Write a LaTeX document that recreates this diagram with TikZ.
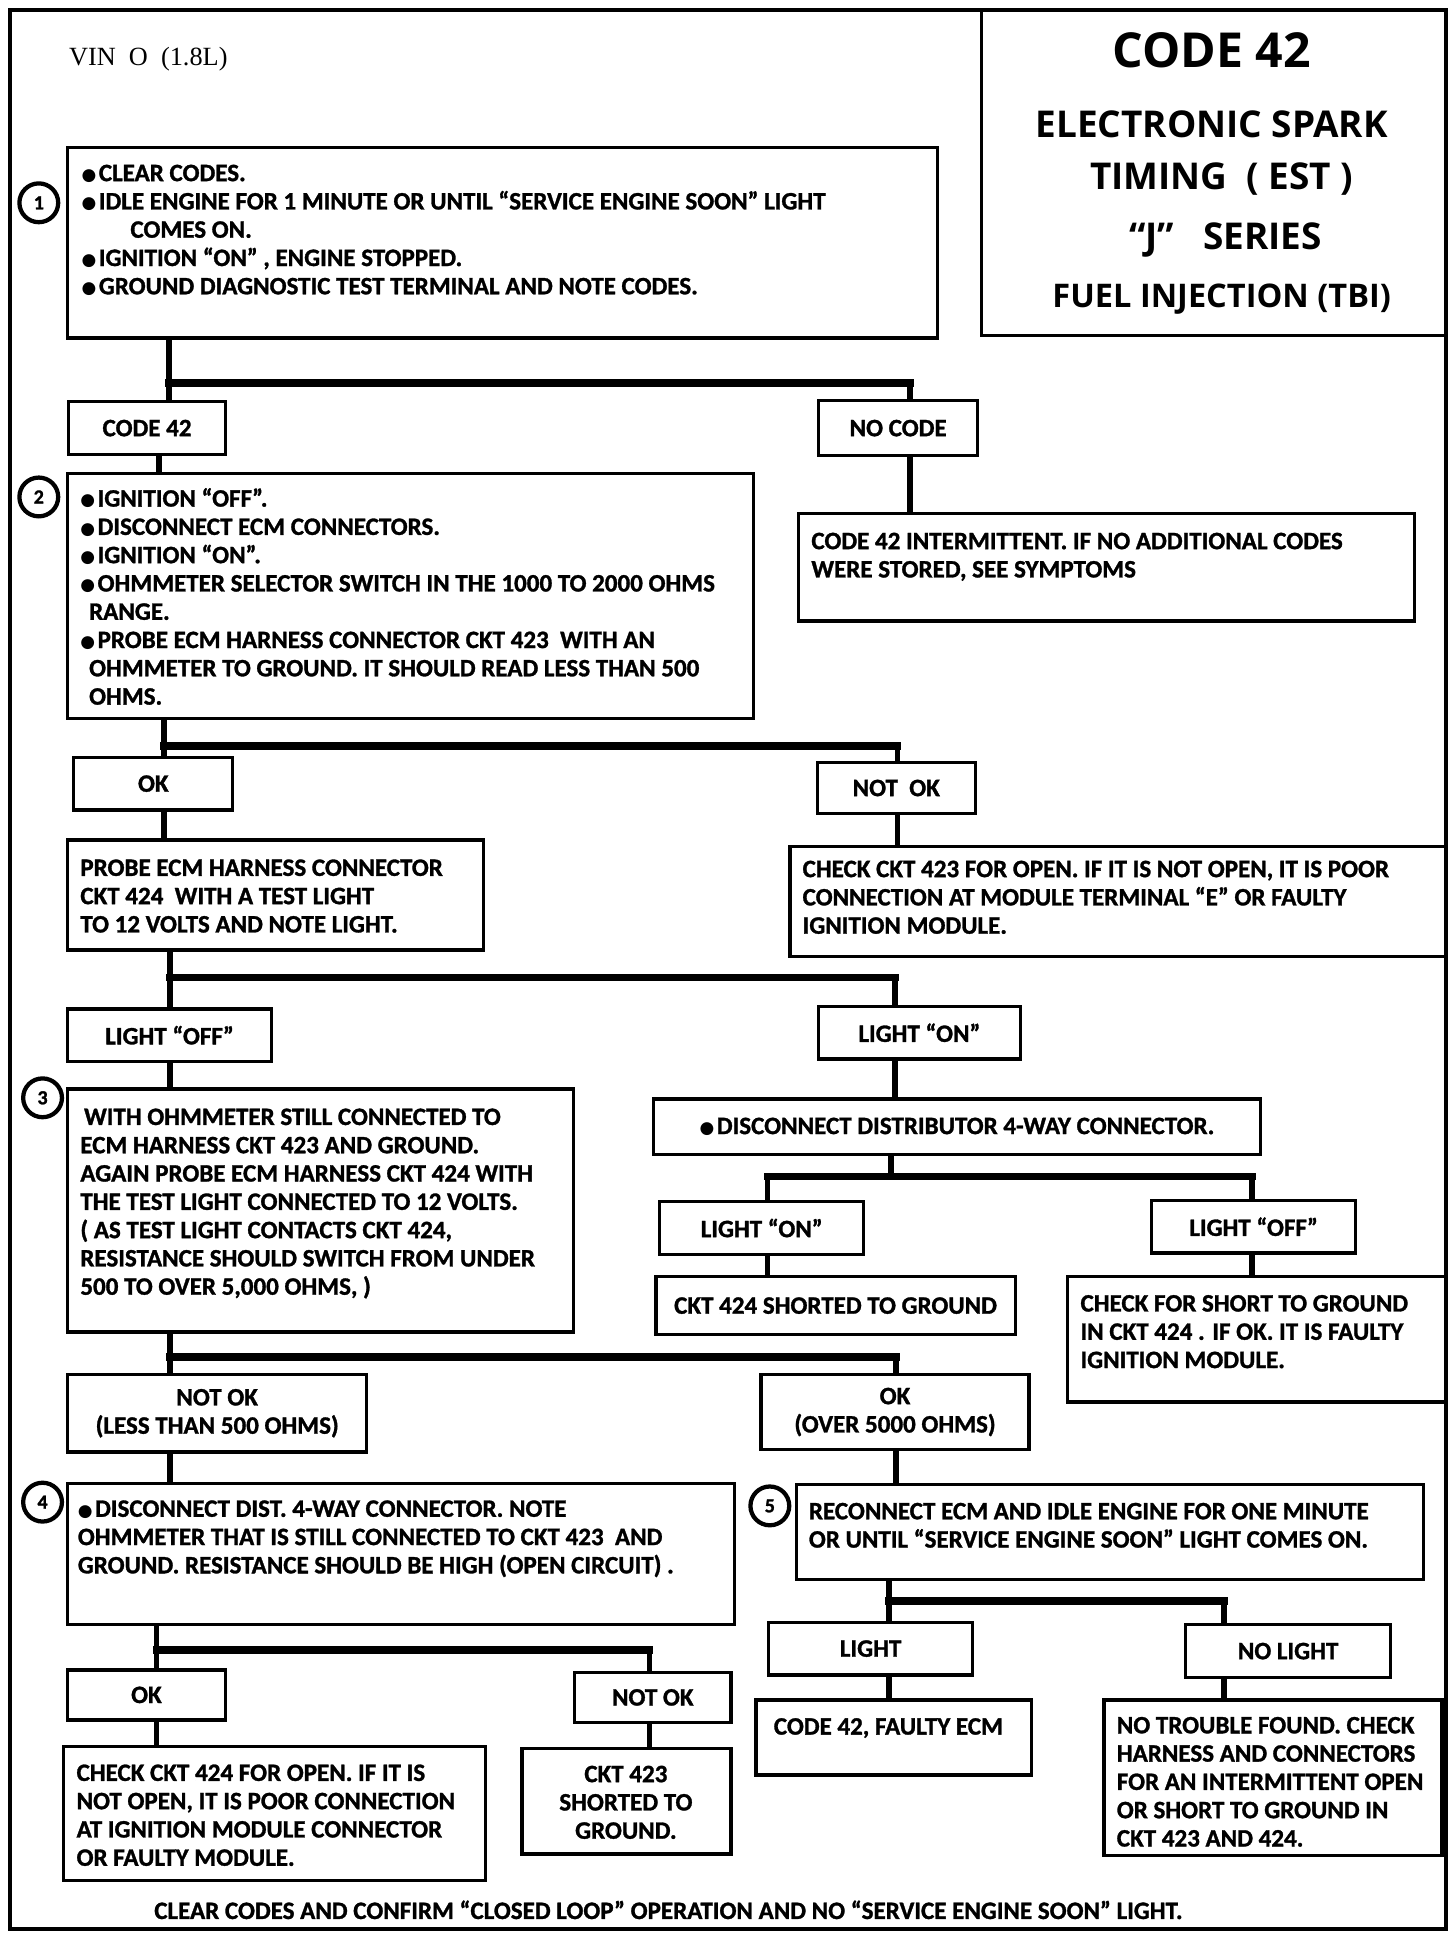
\documentclass[tikz,border=0pt]{standalone}
\usepackage{fontspec}
\setmainfont{Carlito}[BoldFeatures={FakeBold=1.2}]
\newfontfamily\titlefont{Open Sans}
\newfontfamily\vinfont{Liberation Serif}
\newfontfamily\dejavu{DejaVu Sans}
\usetikzlibrary{calc,fit}
\newcommand\bodyfont{\fontsize{20}{22.6}\selectfont\bfseries}
\newcommand\firststrut{\rule{0pt}{15pt}}
\newcommand\bul{{\dejavu\fontsize{13.5}{13.5}\selectfont\raisebox{0.5pt}{●}}\hspace{2pt}}
\newcommand\mkbox[5]{\node[box, fit={(#2,#3) (#4,#5)}] (#1) {};}
\tikzset{
  box/.style={draw, line width=2.6pt, inner sep=0pt},
  txt/.style={anchor=north west, inner sep=0pt, align=left, font=\bodyfont},
  ctxt/.style={anchor=center, inner sep=0pt, align=center, font=\bodyfont},
  vline/.style={line width=4.5pt},
  bar/.style={line width=6pt, line cap=rect},
  num/.style={circle, draw, line width=3.4pt, minimum size=31pt, inner sep=0pt, font=\fontsize{16}{16}\selectfont\bfseries},
  frame/.style={line width=3.5pt},
  ttl/.style={anchor=base, inner sep=0pt, font=\titlefont\bfseries}
}
\begin{document}
\begin{tikzpicture}[x=1pt,y=-1pt]
\useasboundingbox (0,0) rectangle (1163,1553);
\fill[white] (0,0) rectangle (1163,1553);
% frame and title box
\draw[frame] (8,8) rectangle (1155,1541);
\draw[line width=3pt] (784,8) -- (784,268) -- (1155,268);
\node[ttl, font=\titlefont\bfseries\fontsize{38.5}{38.5}\selectfont] (t1) at (968,54) {CODE 42};
\node[ttl, font=\titlefont\bfseries\fontsize{29.5}{29.5}\selectfont] (t2) at (968,109.5) {ELECTRONIC SPARK};
\node[ttl, font=\titlefont\bfseries\fontsize{29.5}{29.5}\selectfont] (t3) at (976,151) {TIMING\ \ ( EST )};
\node[ttl, font=\titlefont\bfseries\fontsize{29.5}{29.5}\selectfont] (t4) at (979,199.5) {“J”\ \ \ SERIES};
\node[ttl, font=\titlefont\bfseries\fontsize{26}{26}\selectfont] (t5) at (976,246) {FUEL INJECTION\ (TBI)};
\node[anchor=base west, inner sep=0pt, font=\vinfont\fontsize{21}{21}\selectfont] (vin) at (55,52) {VIN\ \ O\ \ (1.8L)};

% boxes
\mkbox{b1}{54}{118}{749}{270}
\mkbox{c42}{55}{321}{180}{363}
\mkbox{nocode}{654}{320}{781}{364}
\mkbox{b2}{54}{378}{602}{574}
\mkbox{inter}{638}{410}{1130}{496}
\mkbox{ok1}{59}{605}{186}{647}
\mkbox{notok1}{653}{609}{779}{650}
\mkbox{probe}{54}{671}{386}{759}
\mkbox{chk423}{631}{676}{1155}{764}
\mkbox{loff1}{54}{806}{217}{848}
\mkbox{lon1}{654}{804}{815}{846}
\mkbox{b3}{54}{870}{458}{1064}
\mkbox{disc}{522}{878}{1007}{922}
\mkbox{lon2}{527}{960}{690}{1002}
\mkbox{loff2}{920}{959}{1083}{1001}
\mkbox{sh424}{524}{1020}{811}{1066}
\mkbox{chksh}{853}{1020}{1155}{1120}
\mkbox{notok2}{54}{1098}{293}{1160}
\mkbox{ok2}{608}{1098}{822}{1158}
\mkbox{b4}{54}{1185}{587}{1298}
\mkbox{b5}{636}{1186}{1137}{1262}
\mkbox{ok3}{54}{1334}{180}{1374}
\mkbox{notok3}{459}{1336}{584}{1376}
\mkbox{chk424}{51}{1395}{388}{1502}
\mkbox{sh423}{417}{1397}{584}{1481}
\mkbox{light}{614}{1296}{777}{1338}
\mkbox{nolight}{947}{1298}{1111}{1340}
\mkbox{faulty}{604}{1358}{824}{1418}
\mkbox{ntf}{882}{1358}{1152}{1482}

% step numbers
\node[num, fill=white] (n1) at (31,162) {1};
\node[num, fill=white] (n2) at (31,397) {2};
\node[num, fill=white] (n3) at (34,877) {3};
\node[num, fill=white] (n4) at (34,1200) {4};
\node[num, fill=white] (n5) at (615,1203) {5};

% texts
\node[txt] (b1t) at (65,129.5) {\firststrut\bul CLEAR CODES.\\
\bul IDLE ENGINE FOR 1 MINUTE OR UNTIL “SERVICE ENGINE SOON” LIGHT\\
\hspace*{39pt}COMES ON.\\
\bul IGNITION “ON” , ENGINE STOPPED.\\
\bul GROUND DIAGNOSTIC TEST TERMINAL AND NOTE CODES.};
\node[ctxt] (c42t) at (c42.center) {CODE 42};
\node[ctxt] (nocodet) at (nocode.center) {NO CODE};
\node[txt] (b2t) at (64,389.5) {\firststrut\bul IGNITION “OFF”.\\
\bul DISCONNECT ECM CONNECTORS.\\
\bul IGNITION “ON”.\\
\bul OHMMETER SELECTOR SWITCH IN THE 1000 TO 2000 OHMS\\
\hspace*{7pt}RANGE.\\
\bul PROBE ECM HARNESS CONNECTOR CKT 423\ \ WITH AN\\
\hspace*{7pt}OHMMETER TO GROUND. IT SHOULD READ LESS THAN 500\\
\hspace*{7pt}OHMS.};
\node[txt] (intert) at (648,423.5) {\firststrut CODE 42 INTERMITTENT. IF NO ADDITIONAL CODES\\
WERE STORED, SEE SYMPTOMS};
\node[ctxt] (ok1t) at (ok1.center) {OK};
\node[ctxt] (notok1t) at (notok1.center) {NOT\ \ OK};
\node[txt] (probet) at (64,684.5) {\firststrut PROBE ECM HARNESS CONNECTOR\\
CKT 424\ \ WITH A TEST LIGHT\\
TO 12 VOLTS AND NOTE LIGHT.};
\node[txt] (chk423t) at (641,685.5) {\firststrut CHECK CKT 423 FOR OPEN. IF IT IS NOT OPEN, IT IS POOR\\
CONNECTION AT MODULE TERMINAL “E” OR FAULTY\\
IGNITION MODULE.};
\node[ctxt] (loff1t) at (loff1.center) {LIGHT “OFF”};
\node[ctxt] (lon1t) at (lon1.center) {LIGHT “ON”};
\node[txt] (b3t) at (64,883.5) {\firststrut\hspace*{3pt}WITH OHMMETER STILL CONNECTED TO\\
ECM HARNESS CKT 423 AND GROUND.\\
AGAIN PROBE ECM HARNESS CKT 424 WITH\\
THE TEST LIGHT CONNECTED TO 12 VOLTS.\\
( AS TEST LIGHT CONTACTS CKT 424,\\
RESISTANCE SHOULD SWITCH FROM UNDER\\
500 TO OVER 5,000 OHMS, )};
\node[ctxt] (disct) at (disc.center) {\bul DISCONNECT DISTRIBUTOR 4-WAY CONNECTOR.};
\node[ctxt] (lon2t) at (lon2.center) {LIGHT “ON”};
\node[ctxt] (loff2t) at (loff2.center) {LIGHT “OFF”};
\node[ctxt] (sh424t) at (sh424.center) {CKT 424 SHORTED TO GROUND};
\node[txt] (chksht) at (863,1032.5) {\firststrut CHECK FOR SHORT TO GROUND\\
IN CKT 424 . IF OK. IT IS FAULTY\\
IGNITION MODULE.};
\node[ctxt] (notok2t) at (notok2.center) {NOT OK\\(LESS THAN 500 OHMS)};
\node[ctxt] (ok2t) at (ok2.center) {OK\\(OVER 5000 OHMS)};
\node[txt] (b4t) at (62,1196.5) {\firststrut\bul DISCONNECT DIST. 4-WAY CONNECTOR. NOTE\\
OHMMETER THAT IS STILL CONNECTED TO CKT 423\ \ AND\\
GROUND. RESISTANCE SHOULD BE HIGH (OPEN CIRCUIT) .};
\node[txt] (b5t) at (646,1198.5) {\firststrut RECONNECT ECM AND IDLE ENGINE FOR ONE MINUTE\\
OR UNTIL “SERVICE ENGINE SOON” LIGHT COMES ON.};
\node[ctxt] (ok3t) at (ok3.center) {OK};
\node[ctxt] (notok3t) at (notok3.center) {NOT OK};
\node[txt] (chk424t) at (61,1407.5) {\firststrut CHECK CKT 424 FOR OPEN. IF IT IS\\
NOT OPEN, IT IS POOR CONNECTION\\
AT IGNITION MODULE CONNECTOR\\
OR FAULTY MODULE.};
\node[ctxt, anchor=north] (sh423t) at (500,1408.5) {\firststrut CKT 423\\SHORTED TO\\GROUND.};
\node[ctxt] (lightt) at (light.center) {LIGHT};
\node[ctxt] (nolightt) at (nolight.center) {NO LIGHT};
\node[txt] (faultyt) at (618,1370.5) {\firststrut CODE 42, FAULTY ECM};
\node[txt] (ntft) at (892,1369.5) {\firststrut NO TROUBLE FOUND. CHECK\\
HARNESS AND CONNECTORS\\
FOR AN INTERMITTENT OPEN\\
OR SHORT TO GROUND IN\\
CKT 423 AND 424.};
\node[anchor=base, inner sep=0pt, font=\bodyfont] (foot) at (534,1533) {CLEAR CODES AND CONFIRM “CLOSED LOOP” OPERATION AND NO “SERVICE ENGINE SOON” LIGHT.};

% connectors
% split A
\coordinate (a1) at (135,306); \coordinate (a2) at (727,306);
\draw[vline] (b1.south -| a1) -- (c42.north -| a1);
\draw[bar] (a1) -- (a2);
\draw[vline] (a2) -- (nocode.north -| a2);
\coordinate (a3) at (127,370);
\draw[vline] (c42.south -| a3) -- (b2.north -| a3);
\draw[vline] (nocode.south -| a2) -- (inter.north -| a2);
% split B
\coordinate (bb1) at (131,596); \coordinate (bb2) at (717,596);
\draw[vline] (b2.south -| bb1) -- (ok1.north -| bb1);
\draw[bar] (bb1) -- (bb2);
\draw[vline] (bb2) -- (notok1.north -| bb2);
\draw[vline] (ok1.south -| bb1) -- (probe.north -| bb1);
\draw[vline] (notok1.south -| bb2) -- (chk423.north -| bb2);
% split C
\coordinate (cc1) at (136,781); \coordinate (cc2) at (715,781);
\draw[vline] (probe.south -| cc1) -- (loff1.north -| cc1);
\draw[bar] (cc1) -- (cc2);
\draw[vline] (cc2) -- (lon1.north -| cc2);
\draw[vline] (loff1.south -| cc1) -- (b3.north -| cc1);
\draw[vline] (lon1.south -| cc2) -- (disc.north -| cc2);
% split D
\coordinate (dd0) at (712,940); \coordinate (dd1) at (613,940); \coordinate (dd2) at (1000,940);
\draw[vline] (disc.south -| dd0) -- (dd0);
\draw[bar] (dd1) -- (dd2);
\draw[vline] (dd1) -- (lon2.north -| dd1);
\draw[vline] (dd2) -- (loff2.north -| dd2);
\draw[vline] (lon2.south -| dd1) -- (sh424.north -| dd1);
\draw[vline] (loff2.south -| dd2) -- (chksh.north -| dd2);
% split E
\coordinate (ee1) at (136,1084); \coordinate (ee2) at (716,1084);
\draw[vline] (b3.south -| ee1) -- (notok2.north -| ee1);
\draw[bar] (ee1) -- (ee2);
\draw[vline] (ee2) -- (ok2.north -| ee2);
\draw[vline] (notok2.south -| ee1) -- (b4.north -| ee1);
\draw[vline] (ok2.south -| ee2) -- (b5.north -| ee2);
% split F
\coordinate (ff1) at (125,1318); \coordinate (ff2) at (519,1318);
\draw[vline] (b4.south -| ff1) -- (ok3.north -| ff1);
\draw[bar] (ff1) -- (ff2);
\draw[vline] (ff2) -- (notok3.north -| ff2);
\draw[vline] (ok3.south -| ff1) -- (chk424.north -| ff1);
\draw[vline] (notok3.south -| ff2) -- (sh423.north -| ff2);
% split G
\coordinate (gg1) at (710,1279); \coordinate (gg2) at (978,1279);
\draw[vline] (b5.south -| gg1) -- (light.north -| gg1);
\draw[bar] (gg1) -- (gg2);
\draw[vline] (gg2) -- (nolight.north -| gg2);
\draw[vline] (light.south -| gg1) -- (faulty.north -| gg1);
\draw[vline] (nolight.south -| gg2) -- (ntf.north -| gg2);
\end{tikzpicture}
\end{document}
